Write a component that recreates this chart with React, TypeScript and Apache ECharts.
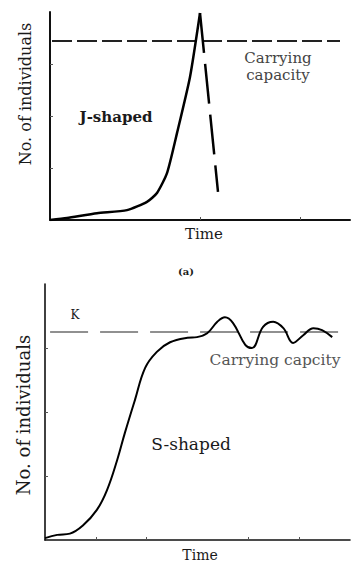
import React, { useEffect, useRef } from "react";
import * as echarts from "echarts";

// Top chart (a): J-shaped growth
const jCurve: [number, number][] = [
  [0, 0], [0.34, 0.04], [0.94, 0.13], [1.54, 0.19], [1.94, 0.35], [2.14, 0.52],
  [2.34, 0.9], [2.54, 1.67], [2.8, 2.75], [3.0, 3.98],
];
const jCrash: [number, number][] = [[3.0, 3.98], [3.36, 0.54]];
const jCapacity: [number, number][] = [[0.04, 3.44], [5.8, 3.44]];

// Bottom chart: S-shaped growth
const sCurve: [number, number][] = [
  [0, 0.03], [0.24, 0.08], [0.49, 0.1], [0.75, 0.23], [1.02, 0.47], [1.22, 0.78],
  [1.42, 1.25], [1.57, 1.67], [1.77, 2.19], [1.97, 2.69], [2.2, 2.94], [2.46, 3.09],
  [2.8, 3.16], [2.99, 3.17], [3.19, 3.23], [3.39, 3.41], [3.54, 3.48], [3.7, 3.39],
  [3.94, 3.05], [4.07, 3.0], [4.29, 3.33], [4.49, 3.41], [4.69, 3.31], [4.88, 3.08],
  [5.08, 3.2], [5.28, 3.31], [5.45, 3.28], [5.65, 3.17],
];
const sCapacity: [number, number][] = [[0.1, 3.25], [6.0, 3.25]];

const topXTicks = [3, 5];
const bottomXTicks = [1, 2, 4, 5];
const yTicks = [1, 2, 3];

const SERIF = "DejaVu Serif";

export default function App() {
  const ref = useRef<HTMLDivElement>(null);
  useEffect(() => {
    if (!ref.current) return;
    const chart = echarts.init(ref.current, null, { renderer: "svg" });
    const axisLine = (w: number) => ({ show: true, onZero: false, lineStyle: { color: "#111", width: w } });
    const xAx = (gi: number, ticks: number[], w: number) => ({
      type: "value", gridIndex: gi, min: 0, max: 6, interval: 1,
      axisLine: axisLine(w),
      axisTick: { show: true, inside: true, length: 3, customValues: ticks, lineStyle: { color: "#555", width: 1 } },
      axisLabel: { show: false }, splitLine: { show: false },
    });
    const yAx = (gi: number, w: number) => ({
      type: "value", gridIndex: gi, min: 0, max: 4, interval: 1,
      axisLine: axisLine(w),
      axisTick: { show: true, inside: true, length: 3, customValues: yTicks, lineStyle: { color: "#555", width: 1 } },
      axisLabel: { show: false }, splitLine: { show: false },
    });
    const txt = (x: number, y: number, text: string, size: number, opts: any = {}) => ({
      type: "text", x, y, rotation: opts.rotation || 0,
      style: {
        text, fontFamily: SERIF, fontSize: size, fontWeight: opts.bold ? "bold" : "normal",
        fill: opts.color || "#1a1a1a", align: opts.align || "center", verticalAlign: "middle",
      },
    });
    chart.setOption({
      animation: false,
      grid: [
        { left: 50, top: 12, width: 300, height: 208 },
        { left: 45, top: 284, width: 305, height: 256 },
      ],
      xAxis: [xAx(0, topXTicks, 2), xAx(1, bottomXTicks, 1.6)],
      yAxis: [yAx(0, 2), yAx(1, 1.6)],
      series: [
        {
          type: "line", xAxisIndex: 0, yAxisIndex: 0, data: jCapacity, symbol: "none",
          lineStyle: { color: "#222", width: 2, type: [20, 5] }, silent: true,
        },
        {
          type: "line", xAxisIndex: 0, yAxisIndex: 0, data: jCurve, symbol: "none", smooth: 0.2,
          lineStyle: { color: "#000", width: 2.5 }, silent: true,
        },
        {
          type: "line", xAxisIndex: 0, yAxisIndex: 0, data: jCrash, symbol: "none",
          lineStyle: { color: "#000", width: 2.5, type: [40, 11] }, silent: true,
        },
        {
          type: "line", xAxisIndex: 1, yAxisIndex: 1, data: sCapacity, symbol: "none",
          lineStyle: { color: "#222", width: 1.2, type: [38, 12] }, silent: true,
        },
        {
          type: "line", xAxisIndex: 1, yAxisIndex: 1, data: sCurve, symbol: "none", smooth: 0.4,
          lineStyle: { color: "#000", width: 2 }, silent: true,
        },
      ],
      graphic: [
        txt(25, 94, "No. of individuals", 16, { rotation: Math.PI / 2 }),
        txt(204, 234, "Time", 15),
        txt(278, 58, "Carrying", 15, { color: "#444" }),
        txt(278, 75, "capacity", 15, { color: "#444" }),
        txt(116, 117, "J-shaped", 15, { bold: true }),
        txt(186, 271, "(a)", 10, { bold: true }),
        txt(23, 415, "No. of individuals", 18, { rotation: Math.PI / 2 }),
        txt(200, 555, "Time", 14),
        txt(75, 315, "K", 12),
        txt(275, 360, "Carrying capcity", 15.5, { color: "#555" }),
        txt(191, 444, "S-shaped", 17),
      ],
    });
    return () => chart.dispose();
  }, []);
  return (
    <div
      ref={ref}
      style={{ position: "fixed", left: 0, top: 0, width: 359, height: 569, background: "#fff" }}
    />
  );
}
